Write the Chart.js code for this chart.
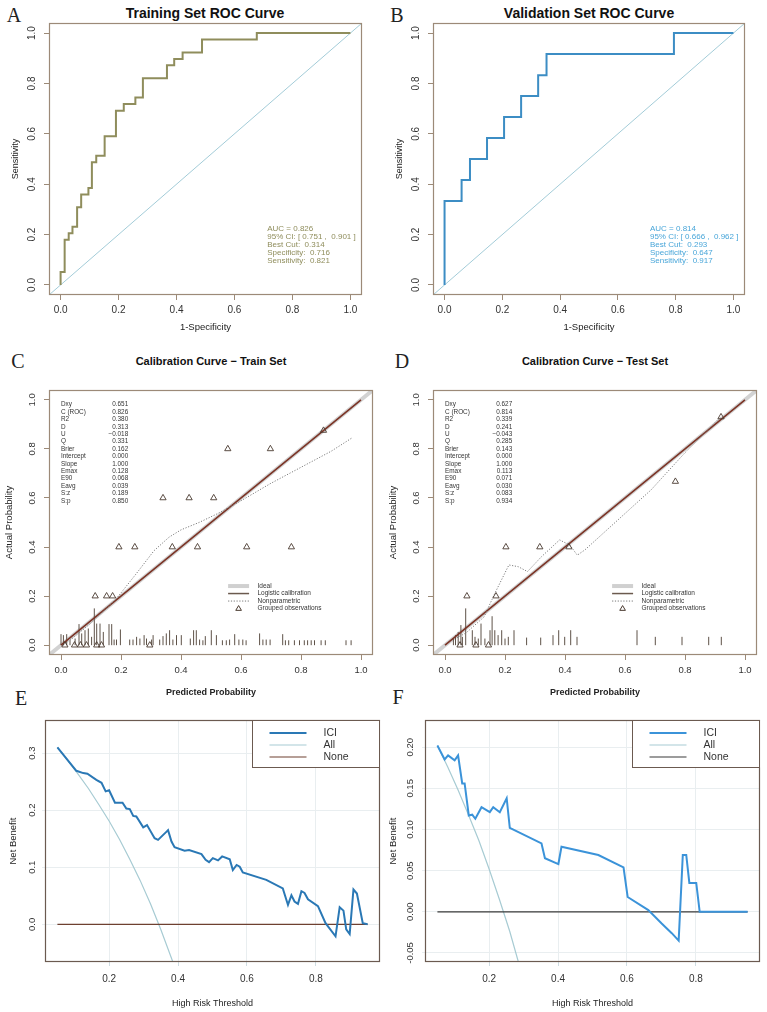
<!DOCTYPE html>
<html>
<head>
<meta charset="utf-8">
<script src="https://cdn.jsdelivr.net/npm/chart.js@4.4.1/dist/chart.umd.min.js"></script>
<style>
body { margin: 0; background: #fff; }
#page { position: relative; width: 767px; height: 1012px; overflow: hidden; background: #fff; }
canvas { position: absolute; }
.tag { position: absolute; font-family: 'Liberation Serif', 'DejaVu Serif', serif; font-size: 20px; color: #222; line-height: 1; transform: translate(-50%, -50%); }
.ttl { position: absolute; font-family: 'Liberation Sans', Arial, sans-serif; font-weight: bold; color: #111; white-space: nowrap; line-height: 1; transform: translate(-50%, -50%); }
</style>
</head>
<body>
<div id="page">
  <div class="tag" style="left:14px;top:15px">A</div>
  <div class="tag" style="left:397px;top:15px">B</div>
  <div class="tag" style="left:18px;top:361px">C</div>
  <div class="tag" style="left:402px;top:361px">D</div>
  <div class="tag" style="left:21px;top:698px">E</div>
  <div class="tag" style="left:398px;top:697px">F</div>
  <div class="ttl" style="left:205px;top:13px;font-size:14px">Training Set ROC Curve</div>
  <div class="ttl" style="left:589px;top:13px;font-size:14px">Validation Set ROC Curve</div>
  <div class="ttl" style="left:211px;top:361px;font-size:11px">Calibration Curve − Train Set</div>
  <div class="ttl" style="left:595px;top:361px;font-size:11px">Calibration Curve − Test Set</div>
  <canvas id="rocTrain" width="384" height="340" style="left:0;top:0"></canvas>
  <canvas id="rocValid" width="383" height="340" style="left:384px;top:0"></canvas>
  <canvas id="calTrain" width="384" height="370" style="left:0;top:340px"></canvas>
  <canvas id="calTest" width="383" height="370" style="left:384px;top:340px"></canvas>
  <canvas id="dcaTrain" width="384" height="302" style="left:0;top:710px"></canvas>
  <canvas id="dcaTest" width="383" height="302" style="left:384px;top:710px"></canvas>
</div>
<script>
// ---- ROC data (A, B) ----
const rocTicks = [0, 0.2, 0.4, 0.6, 0.8, 1.0];
const chanceLine = [-0.04, 1.04];
const trainFpr = [0, 0, 0.014, 0.014, 0.028, 0.028, 0.041, 0.041, 0.057, 0.057, 0.071, 0.071, 0.096, 0.096, 0.108, 0.108, 0.123, 0.123, 0.152, 0.152, 0.191, 0.191, 0.218, 0.218, 0.258, 0.258, 0.284, 0.284, 0.367, 0.367, 0.392, 0.392, 0.421, 0.421, 0.488, 0.488, 0.677, 0.677, 1];
const trainTpr = [0, 0.051, 0.051, 0.179, 0.179, 0.205, 0.205, 0.231, 0.231, 0.308, 0.308, 0.359, 0.359, 0.385, 0.385, 0.487, 0.487, 0.513, 0.513, 0.590, 0.590, 0.692, 0.692, 0.718, 0.718, 0.744, 0.744, 0.821, 0.821, 0.872, 0.872, 0.897, 0.897, 0.923, 0.923, 0.974, 0.974, 1, 1];
const validFpr = [0, 0, 0.059, 0.059, 0.088, 0.088, 0.147, 0.147, 0.206, 0.206, 0.265, 0.265, 0.324, 0.324, 0.353, 0.353, 0.794, 0.794, 1];
const validTpr = [0, 0.333, 0.333, 0.417, 0.417, 0.5, 0.5, 0.583, 0.583, 0.667, 0.667, 0.75, 0.75, 0.833, 0.833, 0.917, 0.917, 1, 1];
const trainRocNotes = ['AUC = 0.826', '95% CI: [ 0.751 ,  0.901 ]', 'Best Cut:  0.314', 'Specificity:  0.716', 'Sensitivity:  0.821'];
const validRocNotes = ['AUC = 0.814', '95% CI: [ 0.666 ,  0.962 ]', 'Best Cut:  0.293', 'Specificity:  0.647', 'Sensitivity:  0.917'];

// ---- Calibration data (C, D) ----
const idealLine = [-0.04, 1.04];
const logisticLine = [0, 1];
const calStatNames = ['Dxy', 'C (ROC)', 'R2', 'D', 'U', 'Q', 'Brier', 'Intercept', 'Slope', 'Emax', 'E90', 'Eavg', 'S:z', 'S:p'];
const trainStatVals = ['0.651', '0.826', '0.380', '0.313', '−0.018', '0.331', '0.162', '0.000', '1.000', '0.128', '0.068', '0.039', '0.189', '0.850'];
const testStatVals = ['0.627', '0.814', '0.339', '0.241', '−0.043', '0.285', '0.143', '0.000', '1.000', '0.113', '0.071', '0.030', '0.083', '0.934'];
const calLegendNames = ['Ideal', 'Logistic calibration', 'Nonparametric', 'Grouped observations'];

const trainObsX = [0.556, 0.698, 0.875, 0.34, 0.427, 0.509, 0.193, 0.246, 0.371, 0.455, 0.619, 0.768, 0.114, 0.152, 0.172, 0.013, 0.045, 0.065, 0.085, 0.119, 0.135, 0.296];
const trainObsY = [0.8, 0.8, 0.875, 0.6, 0.6, 0.6, 0.4, 0.4, 0.4, 0.4, 0.4, 0.4, 0.2, 0.2, 0.2, 0, 0, 0, 0, 0, 0, 0];
const trainSmoothX = [0.03, 0.10, 0.185, 0.25, 0.31, 0.36, 0.40, 0.46, 0.52, 0.595, 0.70, 0.80, 0.90, 0.969];
const trainSmoothY = [0.02, 0.09, 0.19, 0.29, 0.385, 0.44, 0.47, 0.50, 0.535, 0.585, 0.66, 0.725, 0.79, 0.844];
const trainSpikeX = [0.0, 0.008, 0.019, 0.03, 0.047, 0.06, 0.069, 0.08, 0.091, 0.102, 0.111, 0.119, 0.13, 0.141, 0.16, 0.169, 0.177, 0.185, 0.198, 0.229, 0.24, 0.252, 0.263, 0.277, 0.285, 0.302, 0.307, 0.329, 0.34, 0.351, 0.362, 0.373, 0.385, 0.401, 0.431, 0.442, 0.451, 0.462, 0.473, 0.481, 0.501, 0.518, 0.538, 0.551, 0.562, 0.579, 0.593, 0.606, 0.617, 0.662, 0.673, 0.684, 0.697, 0.739, 0.748, 0.759, 0.778, 0.795, 0.811, 0.822, 0.834, 0.845, 0.867, 0.881, 0.95, 0.967];
const trainSpikeH = [0.045, 0.041, 0.045, 0.02, 0.027, 0.086, 0.048, 0.061, 0.068, 0.034, 0.15, 0.088, 0.088, 0.054, 0.086, 0.086, 0.023, 0.023, 0.064, 0.023, 0.023, 0.034, 0.027, 0.041, 0.027, 0.023, 0.041, 0.023, 0.037, 0.048, 0.061, 0.023, 0.041, 0.041, 0.027, 0.061, 0.061, 0.023, 0.02, 0.037, 0.061, 0.041, 0.02, 0.02, 0.023, 0.045, 0.023, 0.023, 0.02, 0.048, 0.023, 0.023, 0.023, 0.045, 0.02, 0.02, 0.02, 0.02, 0.02, 0.02, 0.02, 0.02, 0.02, 0.02, 0.02, 0.02];

const testObsX = [0.768, 0.92, 0.203, 0.316, 0.413, 0.073, 0.17, 0.05, 0.103, 0.145];
const testObsY = [0.667, 0.93, 0.4, 0.4, 0.4, 0.2, 0.2, 0, 0, 0];
const testSmoothX = [0.04, 0.07, 0.13, 0.166, 0.213, 0.244, 0.275, 0.321, 0.382, 0.416, 0.441, 0.466, 0.576, 0.687, 0.798, 0.92];
const testSmoothY = [0.03, 0.05, 0.115, 0.211, 0.327, 0.32, 0.30, 0.36, 0.429, 0.408, 0.367, 0.388, 0.51, 0.633, 0.782, 0.932];
const testSpikeX = [0.028, 0.035, 0.044, 0.053, 0.058, 0.069, 0.091, 0.1, 0.111, 0.12, 0.133, 0.15, 0.157, 0.166, 0.177, 0.189, 0.2, 0.211, 0.23, 0.272, 0.319, 0.36, 0.379, 0.399, 0.419, 0.44, 0.64, 0.701, 0.79, 0.879, 0.921];
const testSpikeH = [0.027, 0.041, 0.054, 0.082, 0.034, 0.15, 0.061, 0.034, 0.027, 0.088, 0.027, 0.061, 0.118, 0.061, 0.041, 0.061, 0.027, 0.034, 0.061, 0.031, 0.031, 0.041, 0.061, 0.034, 0.061, 0.034, 0.061, 0.034, 0.034, 0.034, 0.034];

// ---- Decision curve data (E, F) ----
const dcaXTicks = [0.2, 0.4, 0.6, 0.8];
const dcaTrainYTicks = [0, 0.1, 0.2, 0.3];
const dcaTestYTicks = [-0.05, 0, 0.05, 0.10, 0.15, 0.20];
const noneX = [0.05, 0.95];
const noneY = [0, 0];

const dcaTrainThr = [0.05, 0.105, 0.125, 0.137, 0.163, 0.178, 0.19, 0.2, 0.217, 0.239, 0.25, 0.26, 0.27, 0.279, 0.299, 0.31, 0.332, 0.342, 0.366, 0.371, 0.381, 0.39, 0.419, 0.432, 0.468, 0.48, 0.49, 0.501, 0.516, 0.528, 0.55, 0.559, 0.57, 0.579, 0.588, 0.656, 0.704, 0.719, 0.729, 0.738, 0.748, 0.758, 0.767, 0.777, 0.806, 0.828, 0.857, 0.869, 0.88, 0.888, 0.898, 0.909, 0.919, 0.936, 0.95];
const dcaTrainIci = [0.31, 0.269, 0.265, 0.264, 0.253, 0.248, 0.233, 0.235, 0.213, 0.213, 0.203, 0.202, 0.19, 0.189, 0.17, 0.174, 0.151, 0.148, 0.162, 0.165, 0.145, 0.135, 0.129, 0.13, 0.123, 0.113, 0.109, 0.116, 0.112, 0.119, 0.114, 0.095, 0.104, 0.101, 0.091, 0.078, 0.063, 0.034, 0.051, 0.04, 0.036, 0.058, 0.055, 0.044, 0.032, 0.002, -0.021, 0.03, 0.024, -0.009, -0.017, 0.061, 0.054, 0.002, 0.0];
const dcaTrainAllX = [0.05, 0.08, 0.11, 0.14, 0.17, 0.2, 0.23, 0.26, 0.29, 0.32, 0.35, 0.385, 0.395];
const dcaTrainAll = [0.31, 0.287, 0.263, 0.238, 0.21, 0.181, 0.149, 0.114, 0.077, 0.036, -0.009, -0.066, -0.08];

const dcaTestThr = [0.05, 0.071, 0.081, 0.1, 0.11, 0.122, 0.129, 0.141, 0.151, 0.16, 0.178, 0.202, 0.212, 0.231, 0.251, 0.26, 0.352, 0.362, 0.401, 0.41, 0.517, 0.59, 0.602, 0.662, 0.70, 0.73, 0.75, 0.762, 0.772, 0.781, 0.801, 0.811, 0.95];
const dcaTestIci = [0.202, 0.185, 0.19, 0.184, 0.19, 0.156, 0.156, 0.117, 0.118, 0.113, 0.127, 0.121, 0.127, 0.121, 0.138, 0.102, 0.083, 0.065, 0.058, 0.079, 0.069, 0.054, 0.018, 0.002, -0.014, -0.026, -0.035, 0.069, 0.069, 0.035, 0.035, 0.0, 0.0];
const dcaTestAllX = [0.05, 0.08, 0.11, 0.14, 0.17, 0.2, 0.23, 0.26, 0.285, 0.295];
const dcaTestAll = [0.202, 0.176, 0.148, 0.118, 0.087, 0.052, 0.015, -0.024, -0.061, -0.075];

// ---- shared setup ----
const SANS = "'Liberation Sans', Arial, sans-serif";
Chart.defaults.font.family = SANS;
Chart.defaults.animation = false;
Chart.defaults.responsive = false;
Chart.defaults.events = [];
Chart.defaults.plugins.legend.display = false;
Chart.defaults.plugins.tooltip.enabled = false;
Chart.defaults.elements.point.radius = 0;
Chart.defaults.elements.line.tension = 0;

const zip = (xs, ys) => xs.map((x, i) => ({ x: x, y: ys[i] }));

function spikePoints(xs, hs) {
    const pts = [];
    xs.forEach((x, i) => {
        pts.push({ x: x, y: 0 }, { x: x, y: hs[i] }, { x: x, y: null });
    });
    return pts;
}

function axis(o) {
    return {
        type: 'linear',
        position: o.pos,
        min: o.min,
        max: o.max,
        afterBuildTicks: s => { s.ticks = o.ticks.map(v => ({ value: v })); },
        afterFit: s => {
            if (o.pos === 'left') s.width = o.size; else s.height = o.size;
        },
        grid: {
            drawOnChartArea: !!o.grid,
            color: o.grid || 'rgba(0,0,0,0)',
            drawTicks: true,
            tickLength: o.tl,
            tickColor: o.tickColor,
            lineWidth: 1
        },
        border: { display: false },
        ticks: {
            autoSkip: false,
            font: { size: o.fs },
            color: '#333',
            padding: o.pad,
            minRotation: o.pos === 'left' ? 90 : 0,
            maxRotation: o.pos === 'left' ? 90 : 0,
            crossAlign: o.pos === 'left' ? 'center' : 'near',
            callback: v => Number(v).toFixed(o.dec)
        },
        title: {
            display: true,
            text: o.title,
            color: '#222',
            font: { size: o.tfs, weight: o.tbold ? 'bold' : 'normal' },
            padding: o.tpad
        }
    };
}

// box around the plot region
function frame(color, width) {
    return {
        id: 'frame',
        afterDatasetsDraw(chart) {
            const { ctx, chartArea: a } = chart;
            ctx.save();
            ctx.strokeStyle = color;
            ctx.lineWidth = width;
            ctx.strokeRect(Math.round(a.left) + 0.5, Math.round(a.top) + 0.5,
                Math.round(a.right - a.left) - 1, Math.round(a.bottom - a.top) - 1);
            ctx.restore();
        }
    };
}

// text lines anchored at data coordinates
function notes(blocks) {
    return {
        id: 'notes',
        afterDatasetsDraw(chart) {
            const { ctx, scales: { x, y } } = chart;
            ctx.save();
            blocks.forEach(b => {
                ctx.font = b.font;
                ctx.fillStyle = b.color;
                ctx.textAlign = b.align || 'left';
                ctx.textBaseline = 'middle';
                b.lines.forEach((t, i) => {
                    ctx.fillText(t, x.getPixelForValue(b.x), y.getPixelForValue(b.y) + i * b.step);
                });
            });
            ctx.restore();
        }
    };
}

function triangle(ctx, cx, cy, r) {
    ctx.beginPath();
    ctx.moveTo(cx, cy - r);
    ctx.lineTo(cx + r * 0.95, cy + r * 0.6);
    ctx.lineTo(cx - r * 0.95, cy + r * 0.6);
    ctx.closePath();
    ctx.stroke();
}

// legend of the calibration plots (rms style)
function calLegend(x0, x1, xt, y0) {
    return {
        id: 'calLegend',
        afterDatasetsDraw(chart) {
            const { ctx, scales: { x, y } } = chart;
            const px0 = x.getPixelForValue(x0), px1 = x.getPixelForValue(x1), pxt = x.getPixelForValue(xt);
            const py = y.getPixelForValue(y0);
            const step = 7.5;
            ctx.save();
            ctx.font = '6.5px ' + SANS;
            ctx.fillStyle = '#333';
            ctx.textBaseline = 'middle';
            calLegendNames.forEach((t, i) => ctx.fillText(t, pxt, py + i * step));
            ctx.lineWidth = 4; ctx.strokeStyle = '#d0d0d0';
            ctx.beginPath(); ctx.moveTo(px0, py); ctx.lineTo(px1, py); ctx.stroke();
            ctx.lineWidth = 1.5; ctx.strokeStyle = '#6b5a4e';
            ctx.beginPath(); ctx.moveTo(px0, py + step); ctx.lineTo(px1, py + step); ctx.stroke();
            ctx.lineWidth = 1; ctx.strokeStyle = '#777'; ctx.setLineDash([1.2, 1.6]);
            ctx.beginPath(); ctx.moveTo(px0, py + 2 * step); ctx.lineTo(px1, py + 2 * step); ctx.stroke();
            ctx.setLineDash([]);
            ctx.strokeStyle = '#4a3a30';
            triangle(ctx, (px0 + px1) / 2, py + 3 * step, 3);
            ctx.restore();
        }
    };
}

// legend box of the decision curves
function dcaLegend(fontColor) {
    return {
        id: 'dcaLegend',
        afterDatasetsDraw(chart) {
            const { ctx, chartArea: a } = chart;
            const w = 128, h = 47;
            const left = Math.round(a.right - w) + 0.5, top = Math.round(a.top) + 0.5;
            ctx.save();
            ctx.fillStyle = '#fff';
            ctx.fillRect(left, top, w, h);
            ctx.strokeStyle = '#6b5a50';
            ctx.lineWidth = 1;
            ctx.strokeRect(left, top, w - 1, h);
            ctx.font = '10.5px ' + SANS;
            ctx.textBaseline = 'middle';
            chart.data.datasets.forEach((ds, i) => {
                const yy = top + 12.5 + i * 12;
                ctx.strokeStyle = ds.borderColor;
                ctx.lineWidth = ds.borderWidth;
                ctx.beginPath(); ctx.moveTo(left + 17, yy); ctx.lineTo(left + 54, yy); ctx.stroke();
                ctx.fillStyle = fontColor;
                ctx.fillText(ds.label, left + 71, yy);
            });
            ctx.restore();
        }
    };
}

function makeRoc(id, fpr, tpr, color, noteLines, noteColor, noteX) {
    new Chart(document.getElementById(id), {
        type: 'scatter',
        data: {
            datasets: [
                { data: zip(fpr, tpr), showLine: true, borderColor: color, borderWidth: 2, order: 0 },
                { data: zip(chanceLine, chanceLine), showLine: true, borderColor: '#a3ccd8', borderWidth: 1, order: 1 }
            ]
        },
        options: {
            layout: { padding: { left: 0, top: 23, right: 22, bottom: 0 } },
            scales: {
                x: axis({ pos: 'bottom', min: -0.04, max: 1.04, ticks: rocTicks, size: 45, tl: 5, tickColor: '#9c8a78', fs: 10, pad: 4, dec: 1, title: '1-Specificity', tfs: 9.5, tpad: { top: 0, bottom: 7 } }),
                y: axis({ pos: 'left', min: -0.04, max: 1.04, ticks: rocTicks, size: 49, tl: 5, tickColor: '#9c8a78', fs: 10, pad: 5, dec: 1, title: 'Sensitivity', tfs: 9, tpad: { top: 10, bottom: 0 } })
            }
        },
        plugins: [frame('#9c8a78', 1.2), notes([{ lines: noteLines, x: noteX, y: 0.222, step: 8, font: '8px ' + SANS, color: noteColor }])]
    });
}

function makeCal(id, obsX, obsY, smX, smY, spX, spH, statVals, rightPad) {
    new Chart(document.getElementById(id), {
        type: 'scatter',
        data: {
            datasets: [
                { data: zip(obsX, obsY), showLine: false, pointStyle: 'triangle', pointRadius: 3.6, borderColor: '#4a3a30', borderWidth: 0.9, backgroundColor: 'rgba(0,0,0,0)', order: 0 },
                { data: zip(smX, smY), showLine: true, borderColor: '#7d7d7d', borderWidth: 1, borderDash: [1.2, 1.6], order: 1 },
                { data: zip(logisticLine, logisticLine), showLine: true, borderColor: '#7b3325', borderWidth: 1.6, order: 2 },
                { data: spikePoints(spX, spH), showLine: true, spanGaps: false, borderColor: '#5e5248', borderWidth: 1, order: 3 },
                { data: zip(idealLine, idealLine), showLine: true, borderColor: '#d2d2d2', borderWidth: 4, order: 4 }
            ]
        },
        options: {
            layout: { padding: { left: 0, top: 50, right: rightPad, bottom: 0 } },
            scales: {
                x: axis({ pos: 'bottom', min: -0.04, max: 1.04, ticks: rocTicks, size: 55, tl: 5, tickColor: '#9c8a78', fs: 9.5, pad: 5, dec: 1, title: 'Predicted Probability', tfs: 9, tbold: true, tpad: { top: 0, bottom: 12 } }),
                y: axis({ pos: 'left', min: -0.04, max: 1.04, ticks: rocTicks, size: 49, tl: 5, tickColor: '#9c8a78', fs: 9.5, pad: 5, dec: 1, title: 'Actual Probability', tfs: 9.5, tpad: { top: 4, bottom: 0 } })
            }
        },
        plugins: [
            frame('#9c8a78', 1.2),
            notes([
                { lines: calStatNames, x: 0.0, y: 0.98, step: 7.4, font: '6.4px ' + SANS, color: '#333' },
                { lines: statVals, x: 0.224, y: 0.98, step: 7.4, font: '6.4px ' + SANS, color: '#333', align: 'right' }
            ]),
            calLegend(0.557, 0.627, 0.655, 0.241)
        ]
    });
}

function makeDca(id, thr, ici, allX, all, yTicks, yMin, yMax, dec, iciColor, noneColor, leftW, rightPad, yPad, yTitlePad) {
    new Chart(document.getElementById(id), {
        type: 'scatter',
        data: {
            datasets: [
                { label: 'ICI', data: zip(thr, ici), showLine: true, borderColor: iciColor, borderWidth: 2, order: 0 },
                { label: 'All', data: zip(allX, all), showLine: true, borderColor: '#a7cbd3', borderWidth: 1.2, order: 2 },
                { label: 'None', data: zip(noneX, noneY), showLine: true, borderColor: noneColor, borderWidth: 1.2, order: 1 }
            ]
        },
        options: {
            layout: { padding: { left: 0, top: 10, right: rightPad, bottom: 0 } },
            scales: {
                x: axis({ pos: 'bottom', min: 0.014, max: 0.986, ticks: dcaXTicks, size: 50, grid: '#e9eef0', tl: 4, tickColor: '#cfdde3', fs: 10, pad: 7, dec: 1, title: 'High Risk Threshold', tfs: 9, tpad: { top: 0, bottom: 3 } }),
                y: axis({ pos: 'left', min: yMin, max: yMax, ticks: yTicks, size: leftW, grid: '#e9eef0', tl: 3, tickColor: '#e9eef0', fs: 9.5, pad: yPad, dec: dec, title: 'Net Benefit', tfs: 9.5, tpad: { top: yTitlePad, bottom: 0 } })
            }
        },
        plugins: [frame('#6b5a50', 1.2), dcaLegend('#333')]
    });
}

makeRoc('rocTrain', trainFpr, trainTpr, '#8f8d5c', trainRocNotes, '#8f8d5c', 0.713);
makeRoc('rocValid', validFpr, validTpr, '#3c8dc4', validRocNotes, '#49a6d9', 0.711);
makeCal('calTrain', trainObsX, trainObsY, trainSmoothX, trainSmoothY, trainSpikeX, trainSpikeH, trainStatVals, 11);
makeCal('calTest', testObsX, testObsY, testSmoothX, testSmoothY, testSpikeX, testSpikeH, testStatVals, 10);
makeDca('dcaTrain', dcaTrainThr, dcaTrainIci, dcaTrainAllX, dcaTrainAll, dcaTrainYTicks, -0.066, 0.358, 1, '#2a78b5', '#6e4030', 45, 4, 3, 8);
makeDca('dcaTest', dcaTestThr, dcaTestIci, dcaTestAllX, dcaTestAll, dcaTestYTicks, -0.061, 0.233, 2, '#3b93d9', '#3a3a3a', 41, 7, 1, 4);
</script>
</body>
</html>
